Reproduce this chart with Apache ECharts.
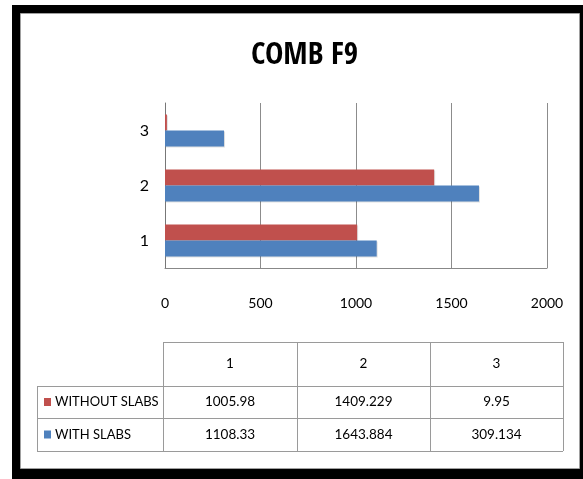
<!DOCTYPE html>
<html>
<head>
<meta charset="utf-8">
<script src="https://cdn.jsdelivr.net/npm/echarts@6/dist/echarts.min.js"></script>
<style>
  html, body { margin: 0; padding: 0; background: #fff; }
  #chart { width: 583px; height: 479px; }
</style>
</head>
<body>
<div id="chart"></div>
<script>
// Chart content
const title = 'COMB F9';
const categories = ['1', '2', '3'];
const seriesNames = ['WITHOUT SLABS', 'WITH SLABS'];
const withoutSlabs = [1005.98, 1409.229, 9.95];
const withSlabs = [1108.33, 1643.884, 309.134];
const withoutSlabsText = ['1005.98', '1409.229', '9.95'];
const withSlabsText = ['1108.33', '1643.884', '309.134'];
const valueTicks = [0, 500, 1000, 1500, 2000];

const RED = '#C0504D';
const BLUE = '#4F81BD';
const FONT = 'Lato, "Open Sans", sans-serif';
const TITLE_FONT = '"Open Sans Condensed", "Roboto Condensed", sans-serif';

const chart = echarts.init(document.getElementById('chart'), null, { renderer: 'canvas' });

// Data table under the plot
const colX = [163, 297, 430, 563];
const rowY = [342, 386, 418, 451];
const tableLeft = 37;
const lineColor = '#9a9a9a';
const table = [];
function hline(x1, x2, y) {
  table.push({ type: 'line', shape: { x1: x1, y1: y + 0.5, x2: x2, y2: y + 0.5 },
    style: { stroke: lineColor, lineWidth: 1 }, z: 5 });
}
function vline(x, y1, y2) {
  table.push({ type: 'line', shape: { x1: x + 0.5, y1: y1, x2: x + 0.5, y2: y2 },
    style: { stroke: lineColor, lineWidth: 1 }, z: 5 });
}
function cellText(str, cx, cy, align, size) {
  table.push({ type: 'text', x: cx, y: cy, z: 6,
    style: { text: str, fill: '#000', font: (size || 13.5) + 'px ' + FONT,
      textAlign: align || 'center', textVerticalAlign: 'middle' } });
}
hline(colX[0], colX[3], rowY[0]);
hline(tableLeft, colX[3], rowY[1]);
hline(tableLeft, colX[3], rowY[2]);
hline(tableLeft, colX[3], rowY[3]);
vline(colX[0], rowY[0], rowY[3]);
vline(colX[1], rowY[0], rowY[3]);
vline(colX[2], rowY[0], rowY[3]);
vline(colX[3], rowY[0], rowY[3]);
vline(tableLeft, rowY[1], rowY[3]);
categories.forEach(function (c, i) {
  cellText(c, (colX[i] + colX[i + 1]) / 2, (rowY[0] + rowY[1]) / 2);
  cellText(withoutSlabsText[i], (colX[i] + colX[i + 1]) / 2, (rowY[1] + rowY[2]) / 2);
  cellText(withSlabsText[i], (colX[i] + colX[i + 1]) / 2, (rowY[2] + rowY[3]) / 2);
});
[[seriesNames[0], RED, 1], [seriesNames[1], BLUE, 2]].forEach(function (r) {
  const cy = (rowY[r[2]] + rowY[r[2] + 1]) / 2;
  table.push({ type: 'rect', shape: { x: 44, y: cy - 4, width: 7, height: 8 },
    style: { fill: r[1] }, z: 6 });
  cellText(r[0], 55, cy, 'left', 13);
});

const option = {
  backgroundColor: 'transparent',
  animation: false,
  title: {
    text: title,
    left: 246,
    top: 35,
    textStyle: { fontFamily: TITLE_FONT, fontWeight: 'bold', fontSize: 31, color: '#000' }
  },
  grid: { left: 165, right: 36, top: 103, height: 165, containLabel: false },
  xAxis: {
    type: 'value',
    min: valueTicks[0],
    max: valueTicks[valueTicks.length - 1],
    interval: 500,
    axisLine: { show: true, lineStyle: { color: '#888', width: 1 } },
    axisTick: { show: false },
    splitLine: { show: true, lineStyle: { color: '#8c8c8c', width: 1 } },
    axisLabel: { color: '#000', fontFamily: FONT, fontSize: 14, margin: 28,
      formatter: function (v) { return String(v); } }
  },
  yAxis: {
    type: 'category',
    data: categories,
    axisLine: { show: true, lineStyle: { color: '#777', width: 1 } },
    axisTick: { show: false },
    axisLabel: { color: '#000', fontFamily: FONT, fontSize: 16, margin: 16 }
  },
  series: [
    {
      name: seriesNames[0], type: 'bar', data: withoutSlabs,
      barWidth: 16, barGap: '0%',
      itemStyle: { color: RED, shadowColor: 'rgba(0,0,0,0.12)', shadowOffsetX: 1, shadowOffsetY: 1 }
    },
    {
      name: seriesNames[1], type: 'bar', data: withSlabs,
      barWidth: 16, barGap: '0%',
      itemStyle: { color: BLUE, shadowColor: 'rgba(0,0,0,0.12)', shadowOffsetX: 1, shadowOffsetY: 1 }
    }
  ],
  graphic: [
    // black frame with white panel
    { type: 'rect', z: -20, silent: true, shape: { x: 12, y: 5, width: 575, height: 480 }, style: { fill: '#000' } },
    { type: 'rect', z: -19, silent: true, shape: { x: 20.5, y: 13.5, width: 559, height: 455 },
      style: { fill: '#fff', stroke: '#a0a0a0', lineWidth: 1 } }
  ].concat(table)
};
chart.setOption(option);
</script>
</body>
</html>
